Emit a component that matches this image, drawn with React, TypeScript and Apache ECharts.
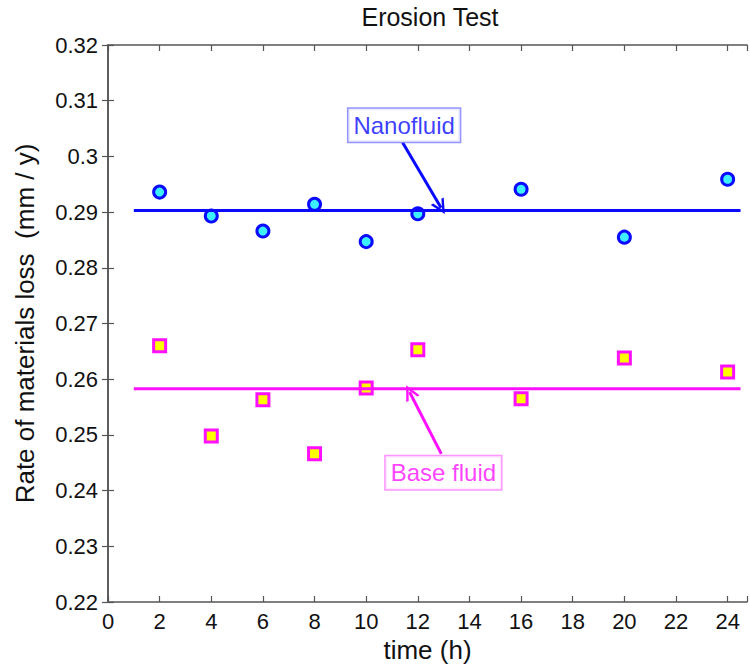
import React, { useEffect, useRef } from "react";
import * as echarts from "echarts";

const titleText = "Erosion Test";
const xName = "time (h)";
const yName = "Rate of materials loss  (mm / y)";

const xMin = 0;
const xMax = 24.75;
const xStep = 2;
const yMin = 0.22;
const yMax = 0.32;
const yStep = 0.01;

const times = [2, 4, 6, 8, 10, 12, 16, 20, 24];
const nanoValues = [0.2936, 0.2893, 0.2866, 0.2914, 0.2847, 0.2897, 0.2941, 0.2855, 0.2959];
const baseValues = [0.2660, 0.2498, 0.2563, 0.2466, 0.2584, 0.2653, 0.2565, 0.2638, 0.2613];
const nanoMean = 0.2903;
const baseMean = 0.2583;
const meanLineX = [1, 24.5];

const nanoLabelPos = [11.47, 0.3056];
const nanoArrow = [[11.41, 0.3025], [12.9, 0.2908]];
const baseLabelPos = [12.99, 0.2432];
const baseArrow = [[12.91, 0.2466], [11.68, 0.2577]];

const FONT = "'Liberation Sans', Arial, Helvetica, sans-serif";
const AXIS_COLOR = "#555";
const BLUE = "#0a0aff";
const MAGENTA = "#ff10ff";
const OPEN_ARROW = "path://M5,0 L10,14 L8.2,14 L5,5 L1.8,14 L0,14 Z";

export default function App() {
  const ref = useRef<HTMLDivElement>(null);
  useEffect(() => {
    document.body.style.margin = "0";
    if (!ref.current) return;
    const chart = echarts.init(ref.current, undefined, { renderer: "svg" });
    const xCommon = {
      type: "value",
      min: xMin,
      max: xMax,
      interval: xStep,
      splitLine: { show: false },
      axisLine: { show: true, lineStyle: { color: AXIS_COLOR, width: 1.5 } },
      axisTick: { show: true, inside: true, length: 6, lineStyle: { color: AXIS_COLOR, width: 1.2 } },
    };
    const yCommon = {
      type: "value",
      min: yMin,
      max: yMax,
      interval: yStep,
      splitLine: { show: false },
      axisLine: { show: true, lineStyle: { color: AXIS_COLOR, width: 1.5 } },
      axisTick: { show: true, inside: true, length: 6, lineStyle: { color: AXIS_COLOR, width: 1.2 } },
    };
    chart.setOption({
      animation: false,
      backgroundColor: "#ffffff",
      textStyle: { fontFamily: FONT },
      grid: { left: 108, right: 0, top: 45, bottom: 64 },
      graphic: [
        {
          type: "text",
          x: 430,
          y: 17,
          style: {
            text: titleText,
            fontFamily: FONT,
            fontSize: 25,
            fill: "#111",
            textAlign: "center",
            textVerticalAlign: "middle",
          },
        },
      ],
      xAxis: [
        {
          ...xCommon,
          position: "bottom",
          name: xName,
          nameLocation: "middle",
          nameGap: 35,
          nameTextStyle: { fontFamily: FONT, fontSize: 26, color: "#111" },
          axisLabel: {
            show: true,
            margin: 8,
            fontFamily: FONT,
            fontSize: 22,
            color: "#111",
            formatter: (v: number) => (v % 2 === 0 ? String(v) : ""),
          },
        },
        { ...xCommon, position: "top", axisLabel: { show: false } },
      ],
      yAxis: [
        {
          ...yCommon,
          position: "left",
          name: yName,
          nameLocation: "middle",
          nameGap: 70,
          nameTextStyle: { fontFamily: FONT, fontSize: 26, color: "#111" },
          axisLabel: {
            show: true,
            margin: 10,
            fontFamily: FONT,
            fontSize: 22,
            color: "#111",
            formatter: (v: number) => String(Math.round(v * 100) / 100),
          },
        },
        { ...yCommon, position: "right", axisLabel: { show: false } },
      ],
      series: [
        {
          type: "scatter",
          z: 2,
          data: times.map((t, i) => [t, nanoValues[i]]),
          symbol: "circle",
          symbolSize: 12,
          itemStyle: { color: "#3cf0ff", borderColor: BLUE, borderWidth: 3, opacity: 1 },
        },
        {
          type: "scatter",
          z: 2,
          data: times.map((t, i) => [t, baseValues[i]]),
          symbol: "rect",
          symbolSize: 12,
          itemStyle: { color: "#ffff00", borderColor: MAGENTA, borderWidth: 3, opacity: 1 },
        },
        {
          type: "line",
          z: 3,
          data: meanLineX.map((x) => [x, nanoMean]),
          symbol: "none",
          lineStyle: { color: BLUE, width: 3 },
        },
        {
          type: "line",
          z: 3,
          data: meanLineX.map((x) => [x, baseMean]),
          symbol: "none",
          lineStyle: { color: MAGENTA, width: 3 },
        },
        {
          type: "lines",
          coordinateSystem: "cartesian2d",
          z: 4,
          symbol: ["none", OPEN_ARROW],
          symbolSize: [11, 15],
          data: [
            { coords: nanoArrow, lineStyle: { color: BLUE, width: 3, opacity: 1 } },
            { coords: baseArrow, lineStyle: { color: MAGENTA, width: 3, opacity: 1 } },
          ],
        },
        {
          type: "scatter",
          z: 5,
          symbolSize: 0,
          silent: true,
          data: [
            {
              value: nanoLabelPos,
              label: {
                show: true,
                position: "inside",
                formatter: "Nanofluid",
                fontFamily: FONT,
                fontSize: 24,
                color: BLUE,
                backgroundColor: "#fff",
                borderColor: "#7a7aff",
                borderWidth: 1.5,
                padding: [5, 5, 4, 5],
              },
            },
            {
              value: baseLabelPos,
              label: {
                show: true,
                position: "inside",
                formatter: "Base fluid",
                fontFamily: FONT,
                fontSize: 24,
                color: MAGENTA,
                backgroundColor: "#fff",
                borderColor: "#ff7aff",
                borderWidth: 1.5,
                padding: [5, 5, 4, 5],
              },
            },
          ],
        },
      ],
    });
    return () => chart.dispose();
  }, []);
  return <div ref={ref} style={{ width: 750, height: 668 }} />;
}
